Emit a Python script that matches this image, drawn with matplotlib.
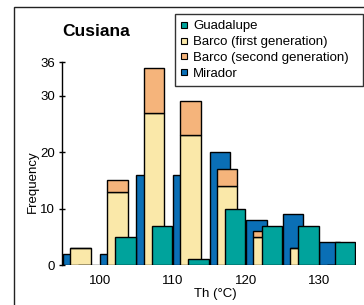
import numpy as np
import matplotlib
matplotlib.use("Agg")
from matplotlib import pyplot as plt
from matplotlib.lines import Line2D
from matplotlib.patches import Rectangle

plt.rcParams['font.family'] = ['Liberation Sans', 'DejaVu Sans']

# bin starts (deg C), 5 degree bins
bins = [95, 100, 105, 110, 115, 120, 125, 130]
mirador = [2, 2, 16, 16, 20, 8, 9, 4]
barco_first = [3, 13, 27, 23, 14, 5, 3, 0]
barco_second = [0, 2, 8, 6, 3, 1, 0, 0]
guadalupe = [0, 5, 7, 1, 10, 7, 7, 4]

labels = ["Guadalupe", "Barco (first generation)",
          "Barco (second generation)", "Mirador"]
c_guad = "#00a39c"
c_first = "#fae8a9"
c_second = "#f5b47b"
c_mir = "#0a6fb6"

fig = plt.figure(figsize=(3.64, 3.05), dpi=100)
ax = fig.add_axes([0.1703, 0.1311, 0.8077, 0.6656])

x = np.array(bins, dtype=float)
w = 2.8
kw = dict(width=w, align="edge", edgecolor="black", linewidth=1.0)

# back to front: Mirador, Barco, Guadalupe
ax.bar(x, mirador, color=c_mir, **kw)
ax.bar(x + 1.0, barco_first, color=c_first, **kw)
ax.bar(x + 1.0, barco_second, bottom=barco_first, color=c_second, **kw)
ax.bar(x + 2.1, guadalupe, color=c_guad, **kw)

ax.set_xlim(94.85, 135.0)
ax.set_ylim(0, 36)
ax.set_yticks([0, 10, 20, 30, 36])
ax.set_xticks([100, 110, 120, 130])
ax.tick_params(axis="y", direction="inout", length=4, width=1, labelsize=9.5, pad=3)
ax.tick_params(axis="x", length=0, labelsize=9.5, pad=7)
for s in ["top", "right", "bottom"]:
    ax.spines[s].set_visible(False)
ax.spines["left"].set_linewidth(1.0)

ax.set_ylabel("Frequency", fontsize=9.5)
ax.yaxis.set_label_coords(-0.08, 0.41)
ax.set_xlabel("Th (°C)", fontsize=9.5)
ax.xaxis.set_label_coords(0.52, -0.113)

fig.text(0.170, 0.898, "Cusiana", fontsize=12.5, fontweight="bold", va="center", ha="left")

handles = [Line2D([], [], linestyle="none", marker="s", markersize=4.2,
                  markerfacecolor=c, markeredgecolor="black", markeredgewidth=0.8)
           for c in [c_guad, c_first, c_second, c_mir]]
leg = fig.legend(handles, labels, loc="upper left",
                 bbox_to_anchor=(0.481, 0.728, 0.516, 0.226), mode="expand",
                 fontsize=9.5, frameon=True, fancybox=False, edgecolor="black",
                 handlelength=0.5, handletextpad=0.4, labelspacing=0.28,
                 borderpad=0.45, borderaxespad=0)
leg.get_frame().set_linewidth(1.0)

# outer panel frame (cropped from a larger figure)
fig.patches.append(Rectangle((0.0385, -0.2), 1.2, 1.177, transform=fig.transFigure,
                             fill=False, edgecolor="#222222", linewidth=1.0))

fig.savefig("out.png", dpi=100)
